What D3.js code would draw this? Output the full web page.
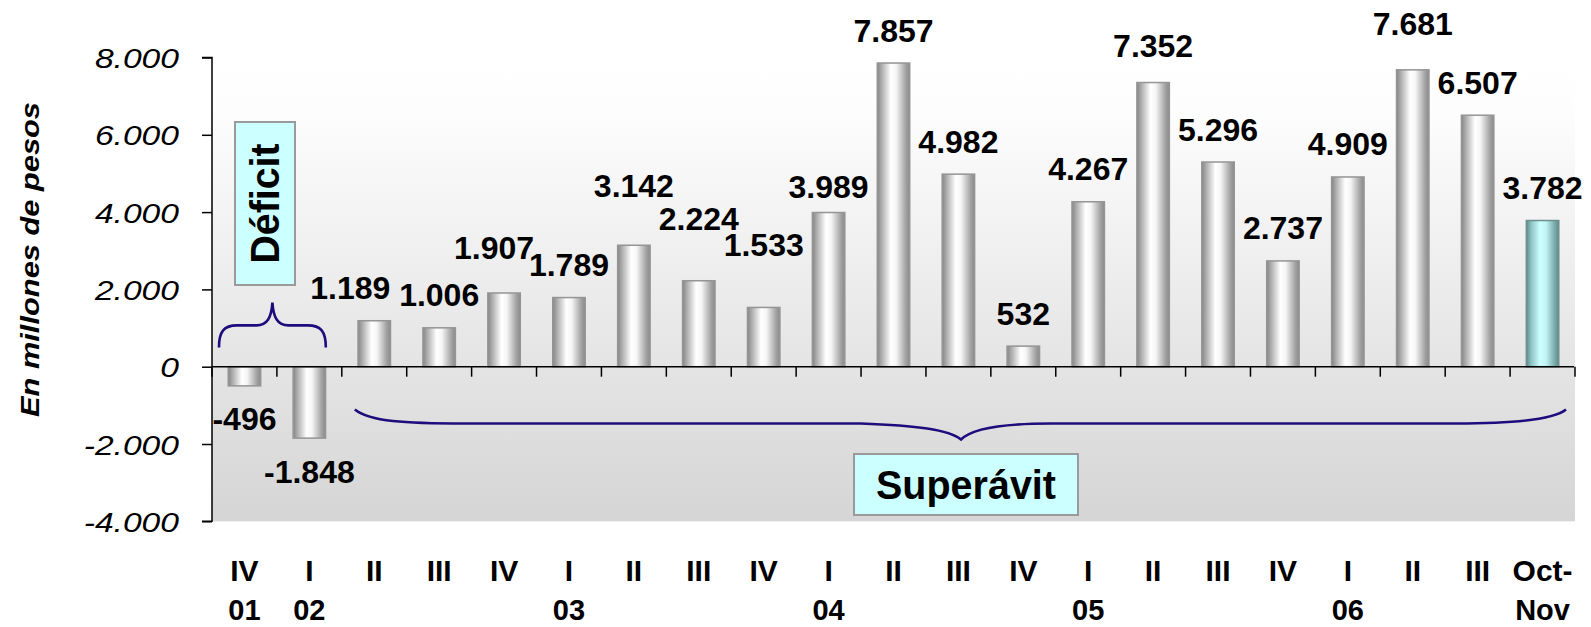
<!DOCTYPE html>
<html>
<head>
<meta charset="utf-8">
<script src="https://cdn.jsdelivr.net/npm/d3@7/dist/d3.min.js"></script>
<style>
  html, body { margin: 0; padding: 0; background: #ffffff; }
  svg { display: block; font-family: Arial, "Liberation Sans", sans-serif; }
</style>
</head>
<body>
<svg id="chart" width="1591" height="627"></svg>
<script>
// ---------------- DATA ----------------
const quarters = ["IV","I","II","III","IV","I","II","III","IV","I","II","III","IV","I","II","III","IV","I","II","III","Oct-"];
const years    = ["01","02","","","","03","","","","04","","","","05","","","","06","","","Nov"];
const values   = [-496,-1848,1189,1006,1907,1789,3142,2224,1533,3989,7857,4982,532,4267,7352,5296,2737,4909,7681,6507,3782];
const valueLabels = ["-496","-1.848","1.189","1.006","1.907","1.789","3.142","2.224","1.533","3.989","7.857","4.982","532","4.267","7.352","5.296","2.737","4.909","7.681","6.507","3.782"];
const highlightIndex = [20];
const yTicks = [-4000,-2000,0,2000,4000,6000,8000];
const yTickLabels = ["-4.000","-2.000","0","2.000","4.000","6.000","8.000"];
const yTitle = "En millones de pesos";
const deficitText = "Déficit";
const superavitText = "Superávit";

// ---------------- LAYOUT ----------------
const svg = d3.select("#chart");
const plot = { left: 212, right: 1575, top: 57.5, bottom: 521.3 };
const ids = quarters.map((q, i) => i);

const x = d3.scaleBand().domain(ids).range([plot.left, plot.right]).paddingInner(0.5).paddingOuter(0.25);
const y = d3.scaleLinear().domain([-4000, 8000]).range([plot.bottom, plot.top]);

// label nudges (px) for manually placed data labels
const nudge = {2:[-24,0], 4:[-10,-12], 6:[0,-27], 7:[0,-29], 8:[0,-30], 9:[0,7], 14:[0,-4], 18:[0,-13]};

const defs = svg.append("defs");
const bg = defs.append("linearGradient").attr("id","bgGrad").attr("x1",0).attr("y1",0).attr("x2",0).attr("y2",1);
bg.append("stop").attr("offset","0").attr("stop-color","#ffffff");
bg.append("stop").attr("offset","0.12").attr("stop-color","#fdfdfd");
bg.append("stop").attr("offset","1").attr("stop-color","#d5d5d5");

const gg = defs.append("linearGradient").attr("id","barGray").attr("x1",0).attr("y1",0).attr("x2",1).attr("y2",0);
[["0","#858585"],["0.12","#a9a9a9"],["0.42","#ffffff"],["0.58","#f6f6f6"],["0.88","#a2a2a2"],["1","#8a8a8a"]]
  .forEach(s => gg.append("stop").attr("offset",s[0]).attr("stop-color",s[1]));
const gc = defs.append("linearGradient").attr("id","barCyan").attr("x1",0).attr("y1",0).attr("x2",1).attr("y2",0);
[["0","#5b8a8a"],["0.15","#8ec3c3"],["0.42","#ccffff"],["0.6","#c2f6f6"],["0.88","#79a9a9"],["1","#5e8b8b"]]
  .forEach(s => gc.append("stop").attr("offset",s[0]).attr("stop-color",s[1]));

// plot background
svg.append("rect")
  .attr("x", plot.left).attr("y", plot.top)
  .attr("width", plot.right - plot.left).attr("height", plot.bottom - plot.top)
  .attr("fill", "url(#bgGrad)");

// bars
svg.append("g").selectAll("rect").data(values).join("rect")
  .attr("x", (d,i) => x(i))
  .attr("width", x.bandwidth())
  .attr("y", d => Math.min(y(d), y(0)))
  .attr("height", d => Math.abs(y(d) - y(0)))
  .attr("fill", (d,i) => highlightIndex.includes(i) ? "url(#barCyan)" : "url(#barGray)")
  .attr("stroke", (d,i) => highlightIndex.includes(i) ? "#6f8f8f" : "#959595")
  .attr("stroke-width", 1.5);

// y axis
const yAxis = d3.axisLeft(y).tickValues(yTicks).tickSize(10).tickFormat((d,i) => yTickLabels[i]);
const yg = svg.append("g").attr("transform", `translate(${plot.left},0)`).call(yAxis);
yg.select(".domain").attr("stroke","#000").attr("stroke-width",1.5).attr("d", `M-10,${y(8000)}H0V${y(-4000)}H-10`);
yg.selectAll(".tick line").attr("stroke","#000").attr("stroke-width",1.5);
yg.selectAll(".tick text")
  .attr("x", -33).attr("dy","0.36em")
  .attr("font-size", 28).attr("font-style","italic").attr("fill","#000")
  .each(function(){ const L = this.getComputedTextLength(); d3.select(this).attr("textLength", L*1.2).attr("lengthAdjust","spacingAndGlyphs"); });

// x axis at zero (category boundary ticks pointing down)
const xg = svg.append("g");
xg.append("line").attr("x1", plot.left).attr("x2", plot.right - 1).attr("y1", y(0)).attr("y2", y(0))
  .attr("stroke","#000").attr("stroke-width",1.5);
const step = x.step();
const boundaries = d3.range(quarters.length + 1).map(k => x(0) - (step - x.bandwidth())*0.5 + k*step);
xg.selectAll("line.tk").data(boundaries).join("line").attr("class","tk")
  .attr("x1", d => d).attr("x2", d => d).attr("y1", y(0)).attr("y2", y(0) + 10)
  .attr("stroke","#000").attr("stroke-width",1.5);

// category labels
svg.append("g").selectAll("text").data(quarters).join("text")
  .attr("x", (d,i) => x(i) + x.bandwidth()/2).attr("y", 581)
  .attr("text-anchor","middle").attr("font-size",30).attr("font-weight","bold").attr("fill","#000")
  .text(d => d);
svg.append("g").selectAll("text").data(years).join("text")
  .attr("x", (d,i) => x(i) + x.bandwidth()/2).attr("y", 620)
  .attr("text-anchor","middle").attr("font-size",29).attr("font-weight","bold").attr("fill","#000")
  .text(d => d);

// data labels
svg.append("g").selectAll("text").data(values).join("text")
  .attr("x", (d,i) => x(i) + x.bandwidth()/2 + (nudge[i] ? nudge[i][0] : 0))
  .attr("y", (d,i) => (d >= 0 ? y(d) - 33 : y(d) + 33) + 11.5 + (nudge[i] ? nudge[i][1] : 0))
  .attr("text-anchor","middle").attr("font-size",32).attr("font-weight","bold").attr("fill","#000")
  .text((d,i) => valueLabels[i]);

// y title
svg.append("text")
  .attr("transform", `translate(39,259.5) rotate(-90)`)
  .attr("text-anchor","middle").attr("font-size",26).attr("font-weight","bold").attr("font-style","italic")
  .attr("textLength", 315).attr("lengthAdjust","spacingAndGlyphs").attr("fill","#000")
  .text(yTitle);

// braces
const brace = "#1f0c7c";
const tx0 = boundaries[0] + 7, tx1 = boundaries[2] - 16, tmid = (tx0 + tx1) / 2;
const tEnd = y(500), tFlat = y(1070), tTip = y(1660);
svg.append("path").attr("fill","none").attr("stroke",brace).attr("stroke-width",2.6)
  .attr("d", `M${tx0},${tEnd} C${tx0},${tFlat+6} ${tx0+5},${tFlat} ${tx0+18},${tFlat} L${tmid-16},${tFlat} C${tmid-5},${tFlat} ${tmid-1},${tFlat-8} ${tmid},${tTip} C${tmid+1},${tFlat-8} ${tmid+5},${tFlat} ${tmid+16},${tFlat} L${tx1-18},${tFlat} C${tx1-5},${tFlat} ${tx1},${tFlat+6} ${tx1},${tEnd}`);

const bx0 = boundaries[2] + 13, bx1 = boundaries[21] - 9, bmid = 961;
const bEnd = y(-1106), bFlat = y(-1469), bTip = y(-1883);
svg.append("path").attr("fill","none").attr("stroke",brace).attr("stroke-width",2.6)
  .attr("d", `M${bx0},${bEnd} C${bx0+15},${bFlat-2} ${bx0+50},${bFlat} ${bx0+110},${bFlat} L${bmid-100},${bFlat} C${bmid-45},${bFlat+2} ${bmid-12},${bFlat+6} ${bmid},${bTip} C${bmid+10},${bFlat+6} ${bmid+40},${bFlat} ${bmid+90},${bFlat} L${bx1-110},${bFlat} C${bx1-50},${bFlat} ${bx1-12},${bFlat-4} ${bx1},${bEnd}`);

// annotation boxes
const defBox = svg.append("g");
defBox.append("rect").attr("x",235).attr("y",122).attr("width",60).attr("height",163)
  .attr("fill","#ccffff").attr("stroke","#9a9a9a").attr("stroke-width",2);
defBox.append("text").attr("transform","translate(279,203.5) rotate(-90)")
  .attr("text-anchor","middle").attr("font-size",40).attr("font-weight","bold").attr("fill","#000")
  .attr("textLength",120).attr("lengthAdjust","spacingAndGlyphs").text(deficitText);

const supBox = svg.append("g");
supBox.append("rect").attr("x",854).attr("y",454).attr("width",224).attr("height",61)
  .attr("fill","#ccffff").attr("stroke","#9a9a9a").attr("stroke-width",2);
supBox.append("text").attr("x",966).attr("y",499)
  .attr("text-anchor","middle").attr("font-size",40).attr("font-weight","bold").attr("fill","#000")
  .attr("textLength",180).attr("lengthAdjust","spacingAndGlyphs").text(superavitText);
</script>
</body>
</html>
